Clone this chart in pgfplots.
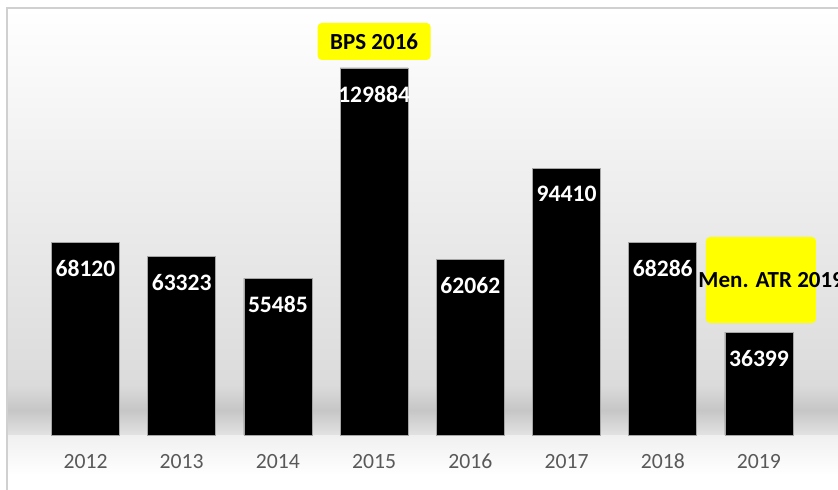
\documentclass[border=0pt]{standalone}
\usepackage{pgfplots}
\pgfplotsset{compat=1.18}
\usepackage{fontspec}
\setmainfont{Carlito}
\definecolor{ticklab}{HTML}{595959}
\definecolor{bgbot}{HTML}{DBDBDB}
\definecolor{shadowc}{HTML}{C6C6C6}
\definecolor{belowc}{HTML}{E2E2E2}
\definecolor{undera}{HTML}{F0F0F0}
\definecolor{borderc}{HTML}{D0D0D0}
\definecolor{callout}{HTML}{FFFF00}
\begin{document}
\begin{tikzpicture}
\useasboundingbox (0,0) rectangle (419pt,244.5pt);
\clip (0,0) rectangle (419pt,244.5pt);
\fill[white] (0,0) rectangle (419pt,244.5pt);
\shade[top color=white, bottom color=bgbot] (3.5pt,51.9pt) rectangle (420pt,240.5pt);
\shade[top color=bgbot, bottom color=shadowc] (3.5pt,39.4pt) rectangle (420pt,52pt);
\shade[top color=shadowc, bottom color=belowc] (3.5pt,27pt) rectangle (420pt,39.5pt);
\shade[top color=undera, bottom color=white] (3.5pt,7pt) rectangle (420pt,27pt);
\draw[borderc, line width=0.7pt] (3.5pt,-1pt) -- (3.5pt,240.5pt) -- (421pt,240.5pt);
\begin{axis}[
  at={(18.7pt,27pt)}, anchor=south west,
  scale only axis, width=384.85pt, height=211.95pt,
  xmin=-0.5, xmax=7.5, ymin=0, ymax=150000,
  axis line style={draw=none},
  ytick=\empty,
  xtick=data,
  xticklabels={2012,2013,2014,2015,2016,2017,2018,2019},
  major tick length=0pt,
  xticklabel style={font=\fontsize{10.85}{13}\selectfont, text=ticklab, text height=7pt, text depth=0pt, yshift=-6.3pt},
  ybar, bar width=34pt,
  clip=false,
  nodes near coords,
  point meta=explicit symbolic,
  every node near coord/.append style={anchor=center, yshift=-13pt, text=white, font=\bfseries\fontsize{11.8}{14}\selectfont},
]
\addplot[fill=black, draw=gray!70, line width=0.4pt] table[meta=label] {
x y label
0 68120 68120
1 63323 63323
2 55485 55485
3 129884 129884
4 62062 62062
5 94410 94410
6 68286 68286
7 36399 36399
};
\node[fill=callout, rounded corners=2pt, minimum width=56.5pt, minimum height=18.5pt, inner sep=0pt, font=\bfseries\fontsize{11.5}{13}\selectfont] at (axis cs:3,139250) {BPS 2016};
\node[fill=callout, rounded corners=2pt, minimum width=55pt, minimum height=43pt, inner sep=0pt] at (axis cs:7.02,54850) {};
\node[anchor=west, inner sep=0pt, font=\bfseries\fontsize{11.5}{13}\selectfont] at (axis cs:6.367,54850) {Men. ATR 2019};
\end{axis}
\end{tikzpicture}
\end{document}
